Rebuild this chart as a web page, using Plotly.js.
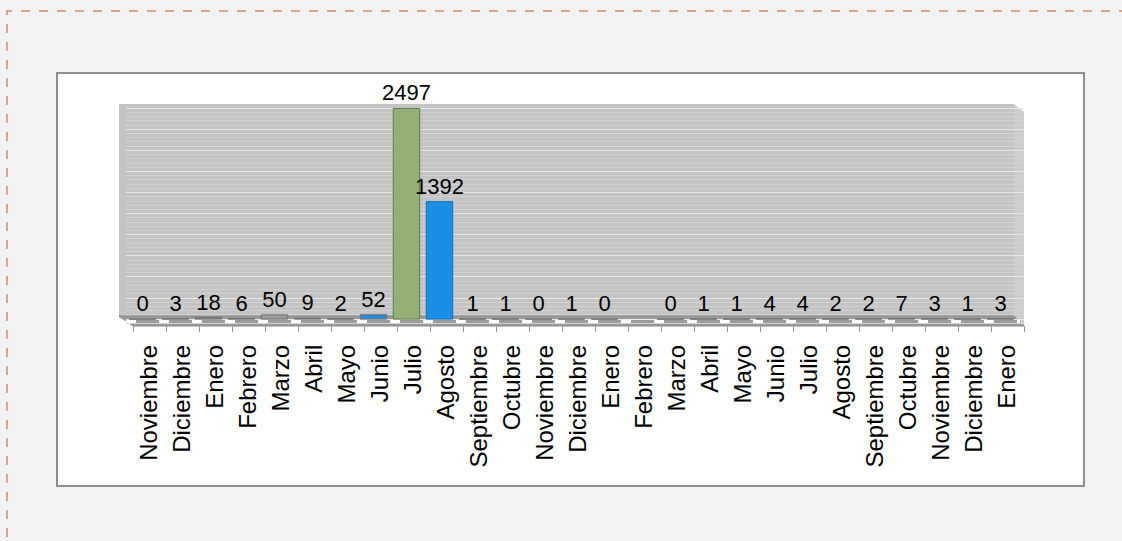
<!DOCTYPE html>
<html>
<head>
<meta charset="utf-8">
<script src="https://cdn.plot.ly/plotly-3.0.1.min.js"></script>
<style>
html,body{margin:0;padding:0;background:#f2f2f2;}
#chart{width:1122px;height:541px;}
</style>
</head>
<body>
<div id="chart"></div>
<script>
// ---- data ----
var months = ["Noviembre","Diciembre","Enero","Febrero","Marzo","Abril","Mayo","Junio","Julio","Agosto",
              "Septiembre","Octubre","Noviembre","Diciembre","Enero","Febrero","Marzo","Abril","Mayo","Junio",
              "Julio","Agosto","Septiembre","Octubre","Noviembre","Diciembre","Enero"];
var values = [0,3,18,6,50,9,2,52,2497,1392,
              1,1,0,1,0,null,0,1,1,4,
              4,2,2,7,3,1,3];
var barColors = ["#8c8c8c","#8c8c8c","#8c8c8c","#3b8e9a","#9c9c9c","#3b8e9a","#3b8e9a","#2a8ad8","#93b076","#1b8fe6",
                 "#8c8c8c","#3b8e9a","#3b8e9a","#8c8c8c","#8c8c8c","#8c8c8c","#8c8c8c","#8c8c8c","#8c8c8c","#8c8c8c",
                 "#8c8c8c","#8c8c8c","#8c8c8c","#8c8c8c","#8c8c8c","#8c8c8c","#8c8c8c"];
var lineColors = barColors.map(function(c){ return c === "#93b076" ? "#5d7f45" : (c === "#1b8fe6" ? "#0f6cb5" : "#6f6f6f"); });

// ---- layout helpers (pixels -> paper fractions) ----
var W = 1122, H = 541;
function px(x){ return x / W; }
function py(y){ return 1 - y / H; }
function pt(x, y){ return px(x) + "," + py(y); }
var idx = months.map(function(_, i){ return i; });
var xr = [-0.5, months.length - 0.5];
var fontFam = "Liberation Sans, Arial, sans-serif";

var labelsTrace = {
  type: "scatter",
  mode: "none",
  x: idx,
  y: values,
  xaxis: "x",
  yaxis: "y",
  hoverinfo: "skip",
  showlegend: false
};
var bars = {
  type: "bar",
  x: idx,
  y: values,
  xaxis: "x2",
  yaxis: "y",
  width: 0.8,
  marker: {color: barColors, line: {color: lineColors, width: 1}},
  text: values.map(function(v){ return v == null ? "" : String(v); }),
  textposition: "outside",
  constraintext: "none",
  textfont: {family: fontFam, size: 22, color: "#000"},
  cliponaxis: false,
  hoverinfo: "skip"
};

var layout = {
  width: W, height: H,
  paper_bgcolor: "#f2f2f2",
  plot_bgcolor: "rgba(0,0,0,0)",
  margin: {l: 0, r: 0, t: 0, b: 0},
  showlegend: false,
  xaxis: {
    domain: [px(133), px(1024)],
    range: xr,
    tickmode: "array",
    tickvals: idx,
    ticktext: months,
    tickangle: -90,
    ticks: "",
    ticklabelstandoff: 14,
    tickfont: {family: fontFam, size: 24, color: "#000"},
    minor: {ticks: "outside", tick0: -0.5, dtick: 1, ticklen: 6, tickcolor: "#9a9a9a", showgrid: false},
    showgrid: false, zeroline: false, showline: false,
    anchor: "y", fixedrange: true
  },
  xaxis2: {
    domain: [px(126), px(1017)],
    range: xr,
    showticklabels: false, ticks: "", showgrid: false, zeroline: false, showline: false,
    anchor: "y", fixedrange: true
  },
  yaxis: {
    domain: [py(325), py(104)],
    range: [-70, 2550],
    showticklabels: false, ticks: "",
    showgrid: true, gridcolor: "#e8e8e8", gridwidth: 1, dtick: 250, tick0: 0,
    minor: {showgrid: true, dtick: 50, gridcolor: "#d2d2d2", gridwidth: 1},
    zeroline: false, showline: false, fixedrange: true
  },
  shapes: [
    // outer dashed frame
    {type: "rect", xref: "paper", yref: "paper", x0: px(7), x1: 1.2, y0: -0.2, y1: py(11),
     line: {color: "#d08c6a", width: 1.5, dash: "dash"}, fillcolor: "rgba(0,0,0,0)", layer: "below"},
    // white chart box
    {type: "rect", xref: "paper", yref: "paper", x0: px(57), x1: px(1084), y0: py(486), y1: py(73),
     line: {color: "#8e8e8e", width: 2}, fillcolor: "#ffffff", layer: "below"},
    // back wall
    {type: "rect", xref: "paper", yref: "paper", x0: px(119), x1: px(1014), y0: py(318), y1: py(104),
     line: {width: 0}, fillcolor: "#c4c4c4", layer: "below"},
    // right side of wall
    {type: "path", xref: "paper", yref: "paper",
     path: "M" + pt(1014, 104) + "L" + pt(1024, 112) + "L" + pt(1024, 326) + "L" + pt(1014, 318) + "Z",
     line: {width: 0}, fillcolor: "#cdcdcd", layer: "below"},
    // floor (parallelogram)
    {type: "path", xref: "paper", yref: "paper",
     path: "M" + pt(119, 316) + "L" + pt(1014, 316) + "L" + pt(1024, 326) + "L" + pt(133, 326) + "Z",
     line: {color: "#8a8a8a", width: 1}, fillcolor: "#9c9c9c", layer: "below"},
    {type: "line", xref: "paper", yref: "paper", x0: px(126), x1: px(1020), y0: py(321), y1: py(321),
     line: {color: "#ffffff", width: 4, dash: "10px,23px"}, layer: "below"}
  ]
};

Plotly.newPlot("chart", [labelsTrace, bars], layout, {displayModeBar: false, staticPlot: true});
</script>
</body>
</html>
